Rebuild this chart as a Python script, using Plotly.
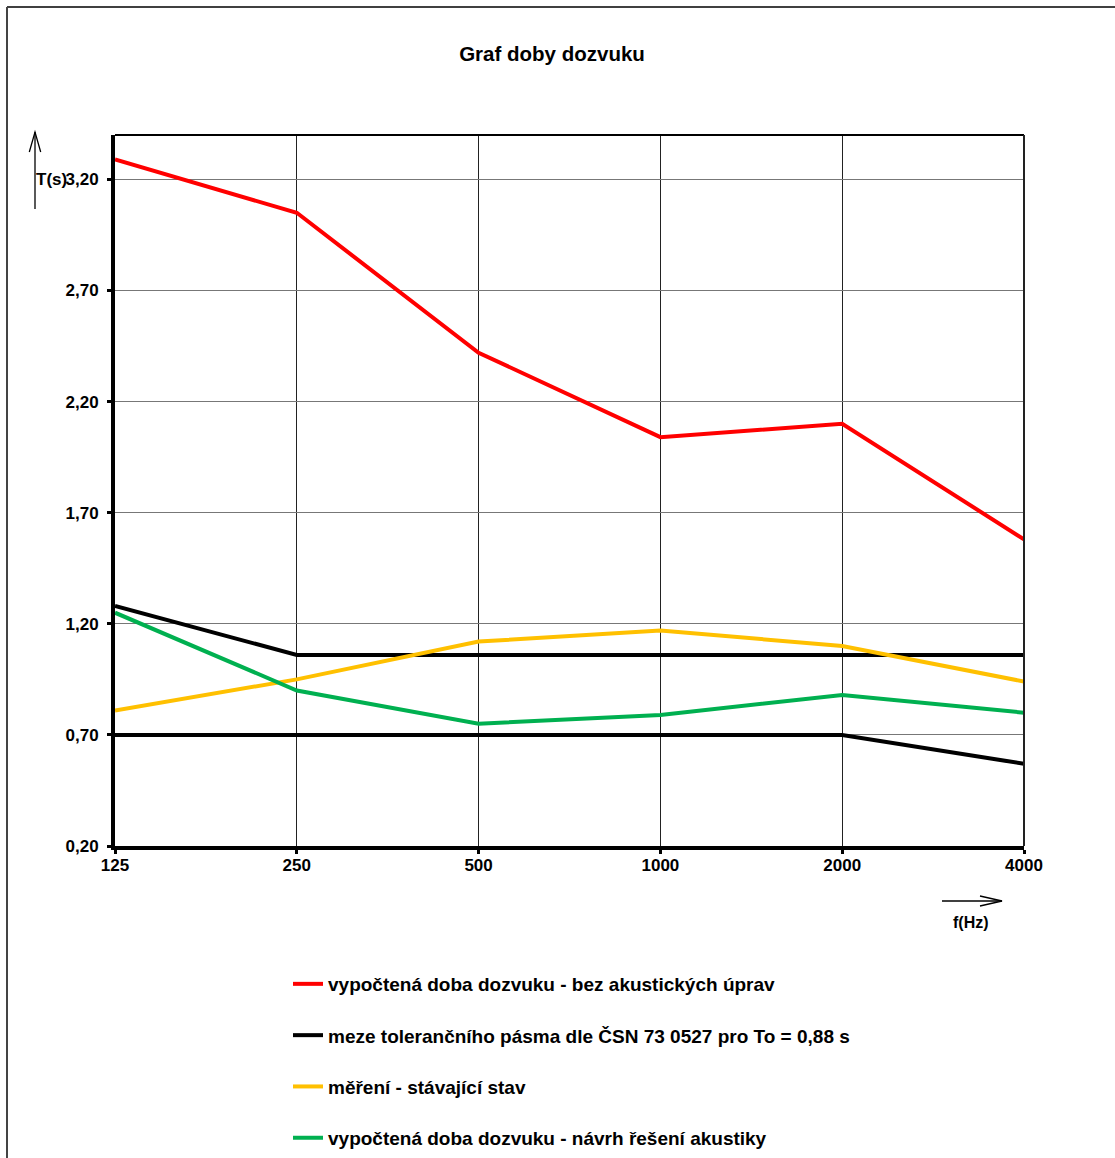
import plotly.graph_objects as go

# ---------------- data ----------------
freq_labels = ["125", "250", "500", "1000", "2000", "4000"]
x_pos = [0, 1, 2, 3, 4, 5]
t_bez_uprav = [3.29, 3.05, 2.42, 2.04, 2.10, 1.58]
tol_upper = [1.28, 1.06, 1.06, 1.06, 1.06, 1.06]
tol_lower = [0.70, 0.70, 0.70, 0.70, 0.70, 0.57]
t_mereni = [0.81, 0.95, 1.12, 1.17, 1.10, 0.94]
t_navrh = [1.25, 0.90, 0.75, 0.79, 0.88, 0.80]
y_ticks = [0.2, 0.7, 1.2, 1.7, 2.2, 2.7, 3.2]
y_tick_labels = ["0,20", "0,70", "1,20", "1,70", "2,20", "2,70", "3,20"]

names = [
    "vypočtená doba dozvuku - bez akustických úprav",
    "meze tolerančního pásma dle ČSN 73 0527 pro To = 0,88 s",
    "měření - stávající stav",
    "vypočtená doba dozvuku - návrh řešení akustiky",
]

W, H = 1115, 1158
L, R, T, B = 115, 1024, 135, 846
FONT = "Liberation Sans, Arial, sans-serif"


def px(xp):
    return (xp - L) / (R - L)


def py(yp):
    return (B - yp) / (B - T)


fig = go.Figure()
fig.add_trace(go.Scatter(x=x_pos, y=t_bez_uprav, mode="lines", name=names[0],
                         line=dict(color="#FF0000", width=4), legendgroup="a"))
fig.add_trace(go.Scatter(x=x_pos, y=tol_upper, mode="lines", name=names[1],
                         line=dict(color="#000000", width=4), legendgroup="b"))
fig.add_trace(go.Scatter(x=x_pos, y=tol_lower, mode="lines", name=names[1],
                         line=dict(color="#000000", width=4), legendgroup="b",
                         showlegend=False))
fig.add_trace(go.Scatter(x=x_pos, y=t_mereni, mode="lines", name=names[2],
                         line=dict(color="#FFC000", width=4), legendgroup="c"))
fig.add_trace(go.Scatter(x=x_pos, y=t_navrh, mode="lines", name=names[3],
                         line=dict(color="#00B050", width=4), legendgroup="d"))

shapes = [
    # top and right plot borders
    dict(type="line", xref="paper", yref="paper", x0=0, x1=1, y0=1, y1=1,
         line=dict(color="black", width=2)),
    dict(type="line", xref="paper", yref="paper", x0=1, x1=1, y0=0, y1=1,
         line=dict(color="#222", width=2)),
    # outer frame (top and left)
    dict(type="line", xref="paper", yref="paper", x0=px(7), x1=px(1120),
         y0=py(7), y1=py(7), line=dict(color="black", width=1.5)),
    dict(type="line", xref="paper", yref="paper", x0=px(7), x1=px(7),
         y0=py(7), y1=py(1165), line=dict(color="#444", width=2)),
    # y arrow
    dict(type="line", xref="paper", yref="paper", x0=px(35), x1=px(35),
         y0=py(209), y1=py(132), line=dict(color="black", width=1.3)),
    dict(type="path", xref="paper", yref="paper",
         path=f"M{px(29.3)},{py(152)} L{px(35)},{py(132)} L{px(40.7)},{py(152)}",
         line=dict(color="black", width=1.3)),
    # x arrow
    dict(type="line", xref="paper", yref="paper", x0=px(942), x1=px(1002),
         y0=py(901), y1=py(901), line=dict(color="black", width=1.3)),
    dict(type="path", xref="paper", yref="paper",
         path=f"M{px(980)},{py(896)} L{px(1002)},{py(901)} L{px(980)},{py(906)}",
         line=dict(color="black", width=1.3)),
]

annotations = [
    dict(text="T(s)", xref="paper", yref="y", x=px(69), y=3.2, xanchor="right",
         yanchor="middle", showarrow=False,
         font=dict(family=FONT, size=17, color="black", weight="bold")),
    dict(text="f(Hz)", xref="paper", yref="paper", x=px(971), y=py(922),
         xanchor="center", yanchor="middle", showarrow=False,
         font=dict(family=FONT, size=16, color="black", weight="bold")),
]

fig.update_layout(
    width=W, height=H,
    margin=dict(l=L, r=W - R, t=T, b=H - B, autoexpand=False),
    paper_bgcolor="white", plot_bgcolor="white",
    title=dict(text="<b>Graf doby dozvuku</b>", x=552 / W, xref="container",
               xanchor="center", y=1 - 54 / H, yanchor="middle",
               font=dict(family=FONT, size=20.5, color="black")),
    font=dict(family=FONT, color="black"),
    showlegend=True,
    legend=dict(xref="container", yref="container",
                x=288 / W, xanchor="left", y=1 - 965 / H, yanchor="top",
                orientation="v", tracegroupgap=23.6, bgcolor="rgba(0,0,0,0)",
                font=dict(family=FONT, size=19, color="black", weight="bold"),
                itemwidth=30),
    shapes=shapes,
    annotations=annotations,
)

fig.update_xaxes(
    range=[0, 5], tickvals=x_pos, ticktext=freq_labels,
    showgrid=True, gridcolor="#222", gridwidth=1,
    showline=True, linecolor="black", linewidth=4,
    ticks="outside", ticklen=4, tickwidth=3, tickcolor="black",
    ticklabelstandoff=-3,
    tickfont=dict(family=FONT, size=17, color="black", weight="bold"),
    zeroline=False,
)
fig.update_yaxes(
    range=[0.2, 3.4], tickvals=y_ticks, ticktext=y_tick_labels,
    showgrid=True, gridcolor="#777", gridwidth=1,
    showline=True, linecolor="black", linewidth=4,
    ticks="outside", ticklen=4, tickwidth=3, tickcolor="black",
    ticklabelstandoff=5,
    tickfont=dict(family=FONT, size=17, color="black", weight="bold"),
    zeroline=False,
)

fig.write_html("out.html", config={"displayModeBar": False},
               post_script="document.body.style.margin='0';")
